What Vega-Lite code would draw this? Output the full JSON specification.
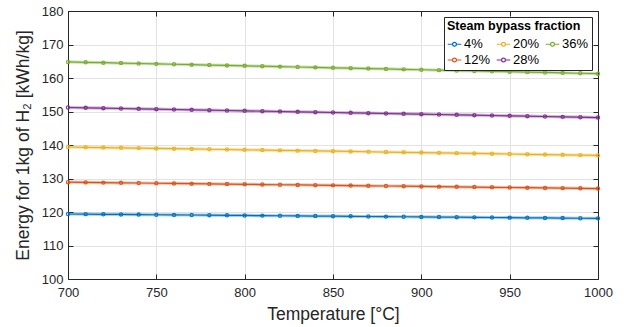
{
  "$schema": "https://vega.github.io/schema/vega-lite/v6.json",
  "width": 530,
  "height": 268,
  "autosize": {"type": "none"},
  "padding": {"left": 68, "top": 11, "right": 28, "bottom": 48},
  "config": {
    "font": "Liberation Sans",
    "view": {"stroke": null},
    "legend": {"strokeColor": "#262626", "fillColor": "#ffffff"},
    "axis": {
      "labelFont": "Liberation Sans",
      "titleFont": "Liberation Sans",
      "labelColor": "#262626",
      "titleColor": "#262626",
      "domainColor": "#262626",
      "tickColor": "#262626",
      "labelFontSize": 13,
      "titleFontSize": 17.5,
      "titleFontWeight": "normal",
      "gridColor": "#e3e3e3",
      "gridWidth": 1,
      "tickSize": -5,
      "labelPadding": 10,
      "labelFlush": false,
      "format": "d"
    }
  },
  "data": {
    "values": [
      {"T": 700, "4%": 119.40, "12%": 128.90, "20%": 139.40, "28%": 151.2, "36%": 164.80},
      {"T": 710, "4%": 119.36, "12%": 128.84, "20%": 139.32, "28%": 151.1, "36%": 164.68},
      {"T": 720, "4%": 119.31, "12%": 128.77, "20%": 139.23, "28%": 151.0, "36%": 164.57},
      {"T": 730, "4%": 119.27, "12%": 128.71, "20%": 139.15, "28%": 150.9, "36%": 164.45},
      {"T": 740, "4%": 119.23, "12%": 128.65, "20%": 139.07, "28%": 150.8, "36%": 164.33},
      {"T": 750, "4%": 119.18, "12%": 128.58, "20%": 138.98, "28%": 150.7, "36%": 164.22},
      {"T": 760, "4%": 119.14, "12%": 128.52, "20%": 138.90, "28%": 150.6, "36%": 164.10},
      {"T": 770, "4%": 119.10, "12%": 128.46, "20%": 138.82, "28%": 150.5, "36%": 163.98},
      {"T": 780, "4%": 119.05, "12%": 128.39, "20%": 138.73, "28%": 150.4, "36%": 163.87},
      {"T": 790, "4%": 119.01, "12%": 128.33, "20%": 138.65, "28%": 150.3, "36%": 163.75},
      {"T": 800, "4%": 118.97, "12%": 128.27, "20%": 138.57, "28%": 150.2, "36%": 163.63},
      {"T": 810, "4%": 118.92, "12%": 128.20, "20%": 138.48, "28%": 150.1, "36%": 163.52},
      {"T": 820, "4%": 118.88, "12%": 128.14, "20%": 138.40, "28%": 150.0, "36%": 163.40},
      {"T": 830, "4%": 118.84, "12%": 128.08, "20%": 138.32, "28%": 149.9, "36%": 163.28},
      {"T": 840, "4%": 118.79, "12%": 128.01, "20%": 138.23, "28%": 149.8, "36%": 163.17},
      {"T": 850, "4%": 118.75, "12%": 127.95, "20%": 138.15, "28%": 149.7, "36%": 163.05},
      {"T": 860, "4%": 118.71, "12%": 127.89, "20%": 138.07, "28%": 149.6, "36%": 162.93},
      {"T": 870, "4%": 118.66, "12%": 127.82, "20%": 137.98, "28%": 149.5, "36%": 162.82},
      {"T": 880, "4%": 118.62, "12%": 127.76, "20%": 137.90, "28%": 149.4, "36%": 162.70},
      {"T": 890, "4%": 118.58, "12%": 127.70, "20%": 137.82, "28%": 149.3, "36%": 162.58},
      {"T": 900, "4%": 118.53, "12%": 127.63, "20%": 137.73, "28%": 149.2, "36%": 162.47},
      {"T": 910, "4%": 118.49, "12%": 127.57, "20%": 137.65, "28%": 149.1, "36%": 162.35},
      {"T": 920, "4%": 118.45, "12%": 127.51, "20%": 137.57, "28%": 149.0, "36%": 162.23},
      {"T": 930, "4%": 118.40, "12%": 127.44, "20%": 137.48, "28%": 148.9, "36%": 162.12},
      {"T": 940, "4%": 118.36, "12%": 127.38, "20%": 137.40, "28%": 148.8, "36%": 162.00},
      {"T": 950, "4%": 118.32, "12%": 127.32, "20%": 137.32, "28%": 148.7, "36%": 161.88},
      {"T": 960, "4%": 118.27, "12%": 127.25, "20%": 137.23, "28%": 148.6, "36%": 161.77},
      {"T": 970, "4%": 118.23, "12%": 127.19, "20%": 137.15, "28%": 148.5, "36%": 161.65},
      {"T": 980, "4%": 118.19, "12%": 127.13, "20%": 137.07, "28%": 148.4, "36%": 161.53},
      {"T": 990, "4%": 118.14, "12%": 127.06, "20%": 136.98, "28%": 148.3, "36%": 161.42},
      {"T": 1000, "4%": 118.10, "12%": 127.00, "20%": 136.90, "28%": 148.2, "36%": 161.30}
    ]
  },
  "transform": [
    {"fold": ["4%", "12%", "20%", "28%", "36%"], "as": ["fraction", "E"]}
  ],
  "resolve": {"axis": {"x": "independent", "y": "independent"}},
  "layer": [
    {
      "mark": {"type": "line", "strokeWidth": 3.2, "opacity": 0.35},
      "encoding": {
        "x": {"field": "T", "type": "quantitative",
          "scale": {"domain": [700, 1000], "nice": false, "zero": false},
          "axis": {"orient": "bottom", "values": [700, 750, 800, 850, 900, 950, 1000], "title": "Temperature [°C]", "titlePadding": 6, "labelPadding": 12, "grid": true}},
        "y": {"field": "E", "type": "quantitative",
          "scale": {"domain": [100, 180], "nice": false, "zero": false},
          "axis": {"orient": "left", "values": [100, 110, 120, 130, 140, 150, 160, 170, 180], "title": "Energy for 1kg of H₂ [kWh/kg]", "titlePadding": 9, "grid": true}},
        "color": {"field": "fraction", "type": "nominal",
          "scale": {"domain": ["4%", "20%", "36%", "12%", "28%"], "range": ["#0072BD", "#EDB120", "#77AC30", "#D95319", "#7E2F8E"]},
          "legend": {
            "title": "Steam bypass fraction",
            "orient": "top-right",
            "offset": 6,
            "columns": 3,
            "direction": "horizontal",
            "strokeColor": "#262626",
            "fillColor": "#ffffff",
            "padding": 3,
            "titleFontSize": 12.5,
            "titleFontWeight": "bold",
            "titleColor": "#000000",
            "titlePadding": 4,
            "labelFontSize": 13,
            "labelColor": "#000000",
            "labelOffset": 2,
            "columnPadding": 3,
            "rowPadding": 1,
            "symbolType": "M -1 0 L -0.28 0 M 0.28 0 L 1 0 M -0.28 0 A 0.28 0.28 0 1 1 0.28 0 A 0.28 0.28 0 1 1 -0.28 0",
            "symbolSize": 185,
            "symbolStrokeWidth": 1.2,
            "symbolOpacity": 1,
            "encode": {
              "symbols": {"update": {"stroke": {"field": "value", "scale": "color"}, "fill": {"value": "transparent"}, "opacity": {"value": 1}}}
            }
          }}
      }
    },
    {
      "mark": {"type": "line", "strokeWidth": 1.2},
      "encoding": {
        "x": {"field": "T", "type": "quantitative",
          "scale": {"domain": [700, 1000], "nice": false, "zero": false},
          "axis": {"orient": "top", "values": [700, 750, 800, 850, 900, 950, 1000], "labels": false, "title": null, "grid": false}},
        "y": {"field": "E", "type": "quantitative",
          "scale": {"domain": [100, 180], "nice": false, "zero": false},
          "axis": {"orient": "right", "values": [100, 110, 120, 130, 140, 150, 160, 170, 180], "labels": false, "title": null, "grid": false}},
        "color": {"field": "fraction", "type": "nominal"}
      }
    },
    {
      "mark": {"type": "point", "filled": false, "size": 10, "strokeWidth": 1.3, "opacity": 0.9},
      "encoding": {
        "x": {"field": "T", "type": "quantitative", "scale": {"domain": [700, 1000], "nice": false, "zero": false}, "axis": null},
        "y": {"field": "E", "type": "quantitative", "scale": {"domain": [100, 180], "nice": false, "zero": false}, "axis": null},
        "color": {"field": "fraction", "type": "nominal"}
      }
    }
  ]
}
